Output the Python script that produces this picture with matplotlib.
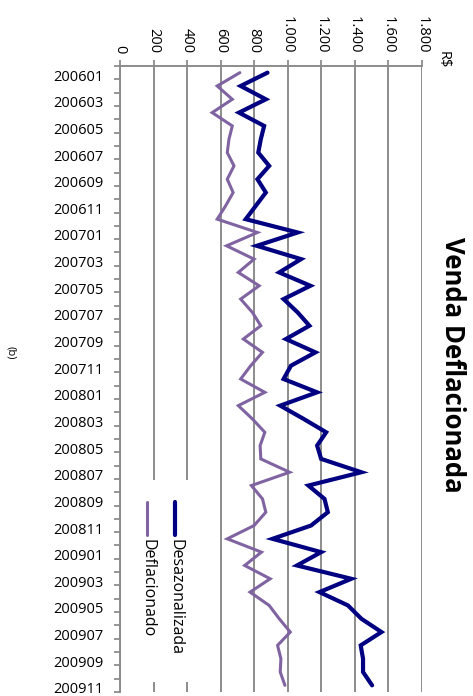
import matplotlib
matplotlib.use("Agg")
import matplotlib.pyplot as plt
from matplotlib.patches import Rectangle
from matplotlib.lines import Line2D
from matplotlib.transforms import ScaledTranslation

# Monthly periods (YYYYMM)
periods = [
    "200601", "200602", "200603", "200604", "200605", "200606",
    "200607", "200608", "200609", "200610", "200611", "200612",
    "200701", "200702", "200703", "200704", "200705", "200706",
    "200707", "200708", "200709", "200710", "200711", "200712",
    "200801", "200802", "200803", "200804", "200805", "200806",
    "200807", "200808", "200809", "200810", "200811", "200812",
    "200901", "200902", "200903", "200904", "200905", "200906",
    "200907", "200908", "200909", "200910", "200911",
]

# Sales in R$
desazonalizada = [
    880, 720, 870, 710, 860, 840, 825, 890, 820, 870, 810, 750,
    1060, 816, 1080, 950, 1136, 976, 1060, 1130, 990, 1166, 1020, 976,
    1176, 956, 1096, 1230, 1176, 1200, 1440, 1124, 1220, 1240, 1140, 910,
    1200, 1056, 1380, 1190, 1360, 1440, 1560, 1436, 1450, 1450, 1504,
]
deflacionado = [
    715, 580, 670, 550, 670, 650, 640, 680, 640, 675, 630, 580,
    820, 636, 800, 706, 830, 720, 790, 840, 736, 850, 780, 720,
    864, 706, 790, 864, 836, 840, 1012, 784, 850, 870, 800, 640,
    844, 744, 896, 776, 890, 950, 1016, 940, 960, 956, 984,
]

value_ticks = [0, 200, 400, 600, 800, 1000, 1200, 1400, 1600, 1800]

series_names = ["Desazonalizada", "Deflacionado"]
series_colors = ["#000080", "#8064A2"]
series_widths = [3.0, 2.2]

FONT = "Open Sans"
GRID = "#8C8C8C"

W, H = 473, 696
fig = plt.figure(figsize=(W / 100, H / 100), dpi=100)


def fx(px):
    return px / W


def fy(py):
    return 1 - py / H


ax = fig.add_axes([fx(120), fy(692), fx(421.7) - fx(120), fy(66) - fy(692)])

rows = list(range(len(periods)))
for vals, col, lw in zip([desazonalizada, deflacionado], series_colors, series_widths):
    ax.plot(vals, rows, color=col, lw=lw, solid_joinstyle="miter",
            solid_capstyle="round", zorder=3)

ax.set_xlim(0, 1800)
ax.set_ylim(len(periods) - 0.5, -0.5)

# value axis on top, labels read downward
ax.xaxis.tick_top()
ax.set_xticks(value_ticks)
ax.set_xticklabels([f"{v:,}".replace(",", ".") for v in value_ticks],
                   rotation=-90, fontfamily=FONT, fontsize=10.5)
ax.tick_params(axis="x", direction="out", length=4, width=1.3, color=GRID,
               pad=5)
for lbl in ax.get_xticklabels():
    lbl.set_verticalalignment("bottom")
ax.grid(axis="x", color=GRID, lw=1.4, zorder=1)
ax.set_axisbelow(True)

# category axis on the left
ax.set_yticks(rows[::2])
ax.set_yticklabels(periods[::2], fontfamily=FONT, fontsize=10.5)
ax.tick_params(axis="y", which="major", length=0, pad=12)
shift = ScaledTranslation(0, -2.5 / 100, fig.dpi_scale_trans)
for lbl in ax.get_yticklabels():
    lbl.set_transform(lbl.get_transform() + shift)
ax.set_yticks([r - 0.5 for r in rows] + [rows[-1] + 0.5], minor=True)
ax.tick_params(axis="y", which="minor", direction="out", length=4.5,
               width=1.3, color=GRID)

for side in ("right", "bottom"):
    ax.spines[side].set_visible(False)
for side in ("left", "top"):
    ax.spines[side].set_color(GRID)
    ax.spines[side].set_linewidth(1.4)

# legend, drawn with vertical keys and rotated text
ax.add_patch(Rectangle((fx(134), fy(682)), fx(203) - fx(134), fy(480) - fy(682),
                       transform=fig.transFigure, facecolor="white",
                       edgecolor="none", zorder=2, clip_on=False))
for name, col, lw, xp in zip(series_names, series_colors, series_widths, [175, 147]):
    ax.add_line(Line2D([fx(xp), fx(xp)], [fy(502), fy(535)], color=col, lw=lw,
                       solid_capstyle="round", transform=fig.transFigure,
                       zorder=4, clip_on=False))
    fig.text(fx(xp), fy(539), name, rotation=-90, ha="center", va="top",
             fontfamily=FONT, fontsize=11.5)

# axis unit
fig.text(fx(443), fy(60), "R$", rotation=-90, ha="center", va="center",
         fontfamily=FONT, fontsize=10.5)

# title
fig.text(fx(452), fy(365), "Venda Deflacionada", rotation=-90, ha="center",
         va="center", fontfamily=FONT, fontweight="bold", fontsize=18.5)

# panel tag
fig.text(fx(10), fy(353), "(b)", rotation=-90, ha="center", va="center",
         fontfamily=FONT, fontsize=8)

fig.savefig("out.png", dpi=100)
